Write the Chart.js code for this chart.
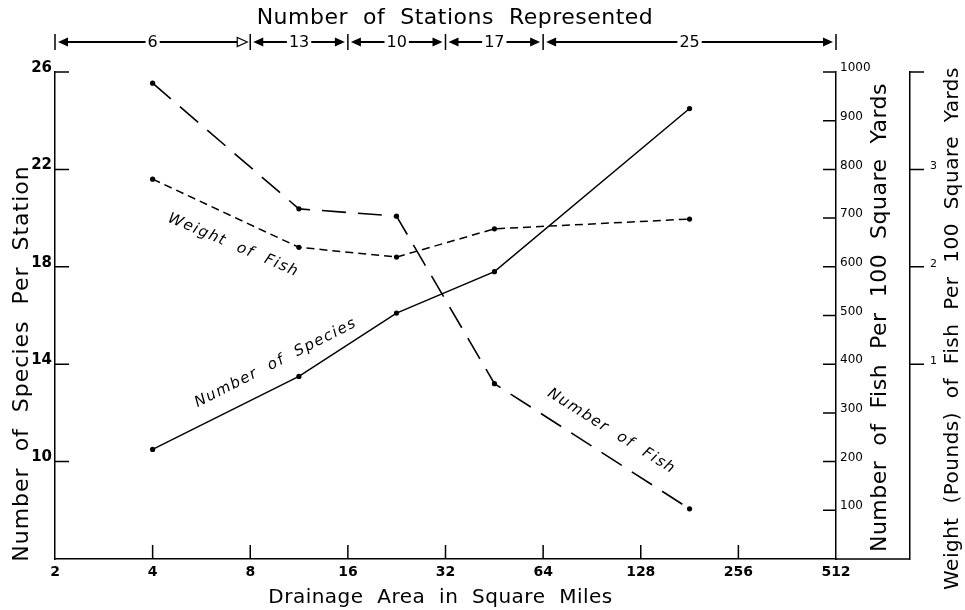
<!DOCTYPE html>
<html><head><meta charset="utf-8">
<script src="https://cdn.jsdelivr.net/npm/chart.js@4.4.0/dist/chart.umd.min.js"></script>
<style>html,body{margin:0;padding:0;background:#fff;}</style>
</head><body>
<canvas id="c" width="965" height="610"></canvas>
<script>
// ---- data ----
const drainageArea      = [4, 11.3, 22.6, 45.3, 181];
const speciesPerStation = [10.5, 13.5, 16.1, 17.8, 24.5];
const fishPer100        = [977, 719, 704, 360, 103];
const weightPer100      = [2.90, 2.20, 2.10, 2.39, 2.49];

const xTicks       = [2, 4, 8, 16, 32, 64, 128, 256, 512];
const speciesTicks = [10, 14, 18, 22, 26];
const fishTicks    = [100, 200, 300, 400, 500, 600, 700, 800, 900, 1000];
const weightTicks  = [1, 2, 3];

const stationCounts = [6, 13, 10, 17, 25];
const stationBounds = [2, 8, 16, 32, 64, 512];

const TXT = "'DejaVu Sans', sans-serif";

function pts(ys) { return drainageArea.map((x, i) => ({ x: x, y: ys[i] })); }

function drawInlineLabel(ctx, x, y, ang, text) {
  ctx.save();
  ctx.translate(x, y);
  ctx.rotate(ang * Math.PI / 180);
  ctx.font = "italic 15px " + TXT;
  ctx.letterSpacing = "1.5px";
  ctx.textAlign = "center";
  ctx.textBaseline = "middle";
  ctx.fillStyle = "#000";
  ctx.fillText(text, 0, 0);
  ctx.restore();
}

function drawTitle(ctx, text, x, y, rot, size, spacing) {
  ctx.save();
  ctx.translate(x, y);
  if (rot) ctx.rotate(rot);
  ctx.font = size + "px " + TXT;
  ctx.letterSpacing = spacing + "px";
  ctx.textAlign = "center";
  ctx.textBaseline = "middle";
  ctx.fillStyle = "#000";
  ctx.fillText(text, 0, 0);
  ctx.restore();
}

function arrowHead(ctx, x, y, dir, open) {
  ctx.beginPath();
  ctx.moveTo(x, y);
  ctx.lineTo(x - dir * 10, y - 4.5);
  ctx.lineTo(x - dir * 10, y + 4.5);
  ctx.closePath();
  if (open) { ctx.fillStyle = "#fff"; ctx.fill(); ctx.lineWidth = 1.2; ctx.stroke(); ctx.fillStyle = "#000"; }
  else { ctx.fill(); }
}

const decor = {
  id: 'decor',
  afterDraw(chart) {
    const ctx = chart.ctx;
    const ca = chart.chartArea;
    const sx = chart.scales.x, sS = chart.scales.ySpecies, sF = chart.scales.yFish, sW = chart.scales.yWeight;
    ctx.save();
    ctx.strokeStyle = "#000"; ctx.fillStyle = "#000"; ctx.lineWidth = 1.5;

    // inward ticks
    ctx.beginPath();
    xTicks.slice(1, -1).forEach(v => { const p = sx.getPixelForValue(v); ctx.moveTo(p, ca.bottom); ctx.lineTo(p, ca.bottom - 14); });
    speciesTicks.forEach(v => { const p = sS.getPixelForValue(v); ctx.moveTo(ca.left, p); ctx.lineTo(ca.left + 14, p); });
    fishTicks.forEach(v => { const p = sF.getPixelForValue(v); ctx.moveTo(ca.right, p); ctx.lineTo(ca.right - 13, p); });
    weightTicks.concat([sW.max]).forEach(v => { const p = sW.getPixelForValue(v); ctx.moveTo(sW.left, p); ctx.lineTo(sW.left + 14, p); });
    ctx.moveTo(ca.right, ca.bottom); ctx.lineTo(sW.left, ca.bottom);
    ctx.stroke();

    // axis titles
    const midY = (ca.top + ca.bottom) / 2;
    drawTitle(ctx, "Number  of  Species  Per  Station", 22, midY + 48, -Math.PI / 2, 22, 1);
    drawTitle(ctx, "Number  of  Fish  Per  100  Square  Yards", sF.left + 44, midY + 2, -Math.PI / 2, 22, 0.5);
    drawTitle(ctx, "Weight  (Pounds)  of  Fish  Per  100  Square  Yards", sW.left + 43, midY + 13, -Math.PI / 2, 20, 0.5);
    drawTitle(ctx, "Drainage  Area  in  Square  Miles", (ca.left + ca.right) / 2 - 5, 598, 0, 20, 0.5);
    drawTitle(ctx, "Number  of  Stations  Represented", 455, 18, 0, 22, 0.5);

    // station-count arrows
    const ry = 42;
    ctx.font = "16px " + TXT;
    ctx.textAlign = "center"; ctx.textBaseline = "middle";
    ctx.lineWidth = 1.5;
    const bx = stationBounds.map(v => sx.getPixelForValue(v));
    ctx.beginPath();
    bx.forEach(p => { ctx.moveTo(p, ry - 8); ctx.lineTo(p, ry + 8); });
    ctx.stroke();
    stationCounts.forEach((n, i) => {
      const xa = bx[i] + 3, xb = bx[i + 1] - 3, xm = (bx[i] + bx[i + 1]) / 2;
      const t = String(n); const w = ctx.measureText(t).width;
      ctx.fillText(t, xm, ry + 1);
      ctx.lineWidth = 2;
      ctx.beginPath();
      ctx.moveTo(xa + 6, ry); ctx.lineTo(xm - w / 2 - 2, ry);
      ctx.moveTo(xm + w / 2 + 2, ry); ctx.lineTo(xb - 6, ry);
      ctx.stroke();
      arrowHead(ctx, xa, ry, -1, false);
      arrowHead(ctx, xb, ry, 1, i === 0);
    });

    // inline series labels
    drawInlineLabel(ctx, sx.getPixelForValue(7.1), sW.getPixelForValue(2.22), 23, "Weight  of  Fish");
    drawInlineLabel(ctx, sx.getPixelForValue(9.6), sS.getPixelForValue(14.05), -27, "Number  of  Species");
    drawInlineLabel(ctx, sx.getPixelForValue(104), sF.getPixelForValue(262), 32, "Number  of  Fish");
    ctx.restore();
  }
};

new Chart(document.getElementById('c'), {
  type: 'line',
  data: {
    datasets: [
      { label: 'Number of Species', data: pts(speciesPerStation), yAxisID: 'ySpecies',
        borderColor: '#000', borderWidth: 1.5, pointRadius: 2.6, pointBackgroundColor: '#000', pointBorderWidth: 0, tension: 0 },
      { label: 'Number of Fish', data: pts(fishPer100), yAxisID: 'yFish',
        borderColor: '#000', borderWidth: 1.6, borderDash: [24, 12], pointRadius: 2.6, pointBackgroundColor: '#000', pointBorderWidth: 0, tension: 0 },
      { label: 'Weight of Fish', data: pts(weightPer100), yAxisID: 'yWeight',
        borderColor: '#000', borderWidth: 1.5, borderDash: [8, 5], pointRadius: 2.6, pointBackgroundColor: '#000', pointBorderWidth: 0, tension: 0 }
    ]
  },
  options: {
    responsive: false, animation: false, devicePixelRatio: 1,
    layout: { padding: { top: 72, left: 0, right: 0, bottom: 0 } },
    plugins: { legend: { display: false }, tooltip: { enabled: false } },
    scales: {
      x: {
        type: 'logarithmic', min: 2, max: 512,
        afterBuildTicks: s => { s.ticks = xTicks.map(v => ({ value: v })); },
        afterFit: s => { s.height = 51; },
        grid: { drawOnChartArea: false, drawTicks: false },
        border: { display: true, color: '#000', width: 1.5 },
        ticks: { color: '#000', padding: 5, autoSkip: false, maxRotation: 0, font: { family: TXT, size: 14, weight: 'bold' },
                 callback: v => String(v) }
      },
      ySpecies: {
        type: 'linear', position: 'left', min: 6, max: 26,
        afterBuildTicks: s => { s.ticks = speciesTicks.map(v => ({ value: v })); },
        afterFit: s => { s.width = 55; },
        grid: { drawOnChartArea: false, drawTicks: false },
        border: { display: true, color: '#000', width: 1.5 },
        ticks: { color: '#000', padding: 3, labelOffset: -4, font: { family: TXT, size: 15, weight: 'bold' },
                 callback: v => String(v) }
      },
      yFish: {
        type: 'linear', position: 'right', weight: 0, min: 0, max: 1000,
        afterBuildTicks: s => { s.ticks = fishTicks.map(v => ({ value: v })); },
        afterFit: s => { s.width = 74; },
        grid: { drawOnChartArea: false, drawTicks: false },
        border: { display: true, color: '#000', width: 1.5 },
        ticks: { color: '#000', padding: 4, labelOffset: -4, font: { family: TXT, size: 12 },
                 callback: v => String(v) }
      },
      yWeight: {
        type: 'linear', position: 'right', weight: 1, min: -1, max: 4,
        afterBuildTicks: s => { s.ticks = weightTicks.map(v => ({ value: v })); },
        afterFit: s => { s.width = 55; },
        grid: { drawOnChartArea: false, drawTicks: false },
        border: { display: true, color: '#000', width: 1.5 },
        ticks: { color: '#000', padding: 20, labelOffset: -3, font: { family: TXT, size: 11 },
                 callback: v => String(v) }
      }
    }
  },
  plugins: [decor]
});
</script>
</body></html>
